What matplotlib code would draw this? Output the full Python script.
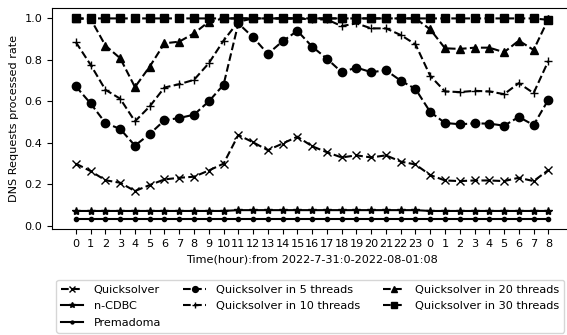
import matplotlib
matplotlib.use("Agg")
import matplotlib.pyplot as plt
import numpy as np

hours = [str(h) for h in range(24)] + [str(h) for h in range(9)]

quicksolver = [0.30, 0.264, 0.22, 0.208, 0.168, 0.197, 0.224, 0.232, 0.237, 0.267, 0.30,
               0.438, 0.403, 0.365, 0.397, 0.43, 0.384, 0.355, 0.33, 0.34, 0.33, 0.34,
               0.31, 0.296, 0.245, 0.219, 0.216, 0.219, 0.219, 0.216, 0.232, 0.216, 0.269]
ncdbc = [0.072] * 11 + [0.076] * 13 + [0.072] * 9
premadoma = [0.032] * 33
q5 = [0.672, 0.59, 0.496, 0.467, 0.387, 0.443, 0.509, 0.52, 0.536, 0.60, 0.68,
      0.976, 0.909, 0.829, 0.89, 0.94, 0.864, 0.806, 0.741, 0.763, 0.741, 0.75,
      0.70, 0.66, 0.549, 0.496, 0.49, 0.494, 0.493, 0.483, 0.525, 0.486, 0.608]
q10 = [0.885, 0.776, 0.656, 0.613, 0.504, 0.576, 0.667, 0.683, 0.704, 0.784, 0.893,
       0.984, 1.0, 1.0, 1.0, 1.0, 0.995, 0.995, 0.963, 0.976, 0.952, 0.952,
       0.92, 0.875, 0.723, 0.648, 0.645, 0.651, 0.648, 0.635, 0.688, 0.64, 0.795]
q20 = [1.0, 0.997, 0.869, 0.808, 0.669, 0.768, 0.88, 0.888, 0.928, 0.984, 1.0,
       1.0, 1.0, 1.0, 1.0, 1.0, 1.0, 1.0, 1.0, 1.0, 1.0, 1.0,
       1.0, 1.0, 0.947, 0.856, 0.853, 0.859, 0.859, 0.837, 0.893, 0.848, 0.997]
q30 = [1.0] * 32 + [0.993]

plt.rcParams['font.size'] = 8.1

fig = plt.figure(figsize=(5.67, 3.35), dpi=100)
ax = fig.add_axes([0.0922, 0.3155, 0.9166, 0.6595])
x = np.arange(len(hours))

ax.plot(x, quicksolver, 'k--', marker='x', label='Quicksolver')
ax.plot(x, ncdbc, 'k-', marker='*', label='n-CDBC')
ax.plot(x, premadoma, 'k-', marker='.', label='Premadoma')
ax.plot(x, q5, 'k--', marker='o', label='Quicksolver in 5 threads')
ax.plot(x, q10, 'k--', marker='+', label='Quicksolver in 10 threads')
ax.plot(x, q20, 'k--', marker='^', label='Quicksolver in 20 threads')
ax.plot(x, q30, 'k--', marker='s', label='Quicksolver in 30 threads')

ax.set_xticks(x)
ax.set_xticklabels(hours)
ax.set_xlim(-1.6, 33.6)
ax.set_yticks([0.0, 0.2, 0.4, 0.6, 0.8, 1.0])
ax.set_xlabel('Time(hour):from 2022-7-31:0-2022-08-01:08')
ax.set_ylabel('DNS Requests processed rate')

ax.legend(ncol=3, loc='upper center', bbox_to_anchor=(0.4965, -0.2297),
          borderaxespad=0, markerscale=0.7, handletextpad=0.9,
          columnspacing=2.0, labelspacing=0.6)

fig.savefig('out.png', dpi=100)
